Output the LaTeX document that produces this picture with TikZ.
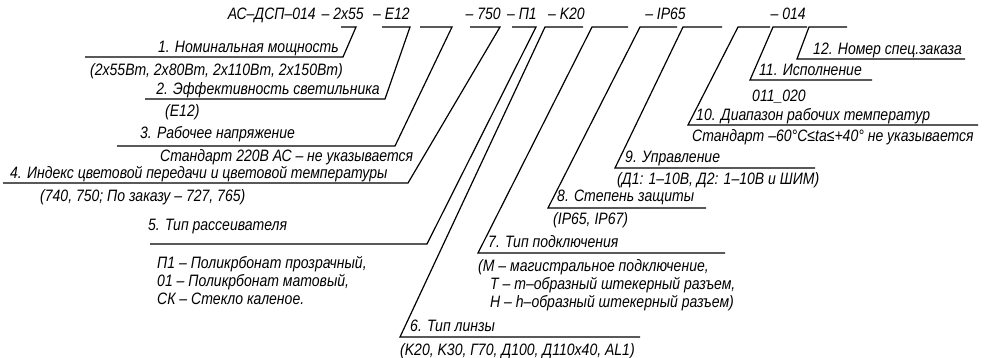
\documentclass[tikz,border=0pt]{standalone}
\usepackage{fontspec}
\setmainfont{Liberation Sans}[FakeStretch=0.85]
\usetikzlibrary{calc}

\begin{document}
\begin{tikzpicture}[
  x=1pt, y=-1pt,
  txt/.style={
    anchor=base west,
    inner sep=0pt,
    font=\fontsize{16.5}{16.5}\selectfont\itshape
  },
  head/.style={txt, anchor=base east},
  lead/.style={line width=1.2pt, line join=miter}
]
\useasboundingbox (0,0) rectangle (993,358);
\node[head] (code) at (316,20) {АС–ДСП–014};
\node[head] (code1) at (364,20) {– 2x55};
\node[head] (code2) at (410,20) {– E12};
\node[head] (code4) at (501,20) {– 750};
\node[head] (code5) at (537,20) {– П1};
\node[head] (code6) at (585,20) {– K20};
\node[head] (code8) at (686,20) {– IP65};
\node[head] (code11) at (806,20) {– 014};
\node[txt, anchor=base east] (power) at (339,52.5) {1. Номинальная мощность};
\node[txt] (powerval) at (90,76) {(2x55Вт, 2x80Вт, 2x110Вт, 2x150Вт)};
\node[txt, anchor=base east] (eff) at (380,94.5) {2. Эффективность светильника};
\node[txt] (effval) at (165,116.5) {(E12)};
\node[txt] (volt) at (140,138.5) {3. Рабочее напряжение};
\node[txt] (voltval) at (160,162) {Стандарт 220В АС – не указывается};
\node[txt] (cri) at (10,178.5) {4. Индекс цветовой передачи и цветовой температуры};
\node[txt] (crival) at (40,201.5) {(740, 750; По заказу – 727, 765)};
\node[txt] (diff) at (148,230.5) {5. Тип рассеивателя};
\node[txt] (diffa) at (157,268.5) {П1 – Поликрбонат прозрачный,};
\node[txt] (diffb) at (157,286.5) {01 – Поликрбонат матовый,};
\node[txt] (diffc) at (157,304.5) {СК – Стекло каленое.};
\node[txt] (lens) at (410,331.5) {6. Тип линзы};
\node[txt] (lensval) at (400,355) {(K20, K30, Г70, Д100, Д110x40, AL1)};
\node[txt] (conn) at (488,247.5) {7. Тип подключения};
\node[txt] (conna) at (478,271.5) {(M – магистральное подключение,};
\node[txt] (connb) at (490,289.5) {T – т–образный штекерный разъем,};
\node[txt] (connc) at (490,307.5) {H – h–образный штекерный разъем)};
\node[txt] (ip) at (557,201.5) {8. Степень защиты};
\node[txt] (ipval) at (553,224.5) {(IP65, IP67)};
\node[txt] (ctrl) at (625,162.5) {9. Управление};
\node[txt] (ctrlval) at (617,184.5) {(Д1: 1–10В, Д2: 1–10В и ШИМ)};
\node[txt] (temp) at (696,120.5) {10. Диапазон рабочих температур};
\node[txt] (tempval) at (692,141.5) {Стандарт –60°С≤ta≤+40° не указывается};
\node[txt] (ver) at (759,75.5) {11. Исполнение};
\node[txt] (verval) at (752,102) {011\_020};
\node[txt] (order) at (813,54.5) {12. Номер спец.заказа};
\coordinate (power-a) at (341,27);  \coordinate (power-b) at (356,27);
\coordinate (power-c) at (343,57);  \coordinate (power-d) at (85,57);
\coordinate (eff-a) at (382,27);    \coordinate (eff-b) at (410,27);
\coordinate (eff-c) at (385,99);    \coordinate (eff-d) at (145,99);
\coordinate (volt-a) at (420,27);   \coordinate (volt-b) at (452,27);
\coordinate (volt-c) at (395,146);  \coordinate (volt-d) at (117,146);
\coordinate (cri-a) at (470,27);    \coordinate (cri-b) at (500,27);
\coordinate (cri-c) at (408,183);   \coordinate (cri-d) at (3,183);
\coordinate (diff-a) at (512,27);   \coordinate (diff-b) at (536,27);
\coordinate (diff-c) at (427,244);  \coordinate (diff-d) at (150,244);
\coordinate (lens-a) at (583,27);   \coordinate (lens-b) at (545,27);
\coordinate (lens-c) at (400,337);  \coordinate (lens-d) at (640,337);
\coordinate (conn-a) at (628,27);   \coordinate (conn-b) at (592,27);
\coordinate (conn-c) at (478,253);  \coordinate (conn-d) at (725,253);
\coordinate (ip-a) at (677,27);     \coordinate (ip-b) at (640,27);
\coordinate (ip-c) at (548,208);    \coordinate (ip-d) at (706,208);
\coordinate (ctrl-a) at (722,27);   \coordinate (ctrl-b) at (683,27);
\coordinate (ctrl-c) at (615,168);  \coordinate (ctrl-d) at (815,168);
\coordinate (temp-a) at (770,27);   \coordinate (temp-b) at (738,27);
\coordinate (temp-c) at (688,125);  \coordinate (temp-d) at (978,125);
\coordinate (ver-a) at (807,27);    \coordinate (ver-b) at (773,27);
\coordinate (ver-c) at (750,80);    \coordinate (ver-d) at (872,80);
\coordinate (order-a) at (847,27);  \coordinate (order-b) at (809,27);
\coordinate (order-c) at (797,59);  \coordinate (order-d) at (965,59);
\draw[lead] (power-a) -- (power-b) -- (power-c) -- (power-d);
\draw[lead] (eff-a) -- (eff-b) -- (eff-c) -- (eff-d);
\draw[lead] (volt-a) -- (volt-b) -- (volt-c) -- (volt-d);
\draw[lead] (cri-a) -- (cri-b) -- (cri-c) -- (cri-d);
\draw[lead] (diff-a) -- (diff-b) -- (diff-c) -- (diff-d);
\draw[lead] (lens-a) -- (lens-b) -- (lens-c) -- (lens-d);
\draw[lead] (conn-a) -- (conn-b) -- (conn-c) -- (conn-d);
\draw[lead] (ip-a) -- (ip-b) -- (ip-c) -- (ip-d);
\draw[lead] (ctrl-a) -- (ctrl-b) -- (ctrl-c) -- (ctrl-d);
\draw[lead] (temp-a) -- (temp-b) -- (temp-c) -- (temp-d);
\draw[lead] (ver-a) -- (ver-b) -- (ver-c) -- (ver-d);
\draw[lead] (order-a) -- (order-b) -- (order-c) -- (order-d);
\end{tikzpicture}
\end{document}
